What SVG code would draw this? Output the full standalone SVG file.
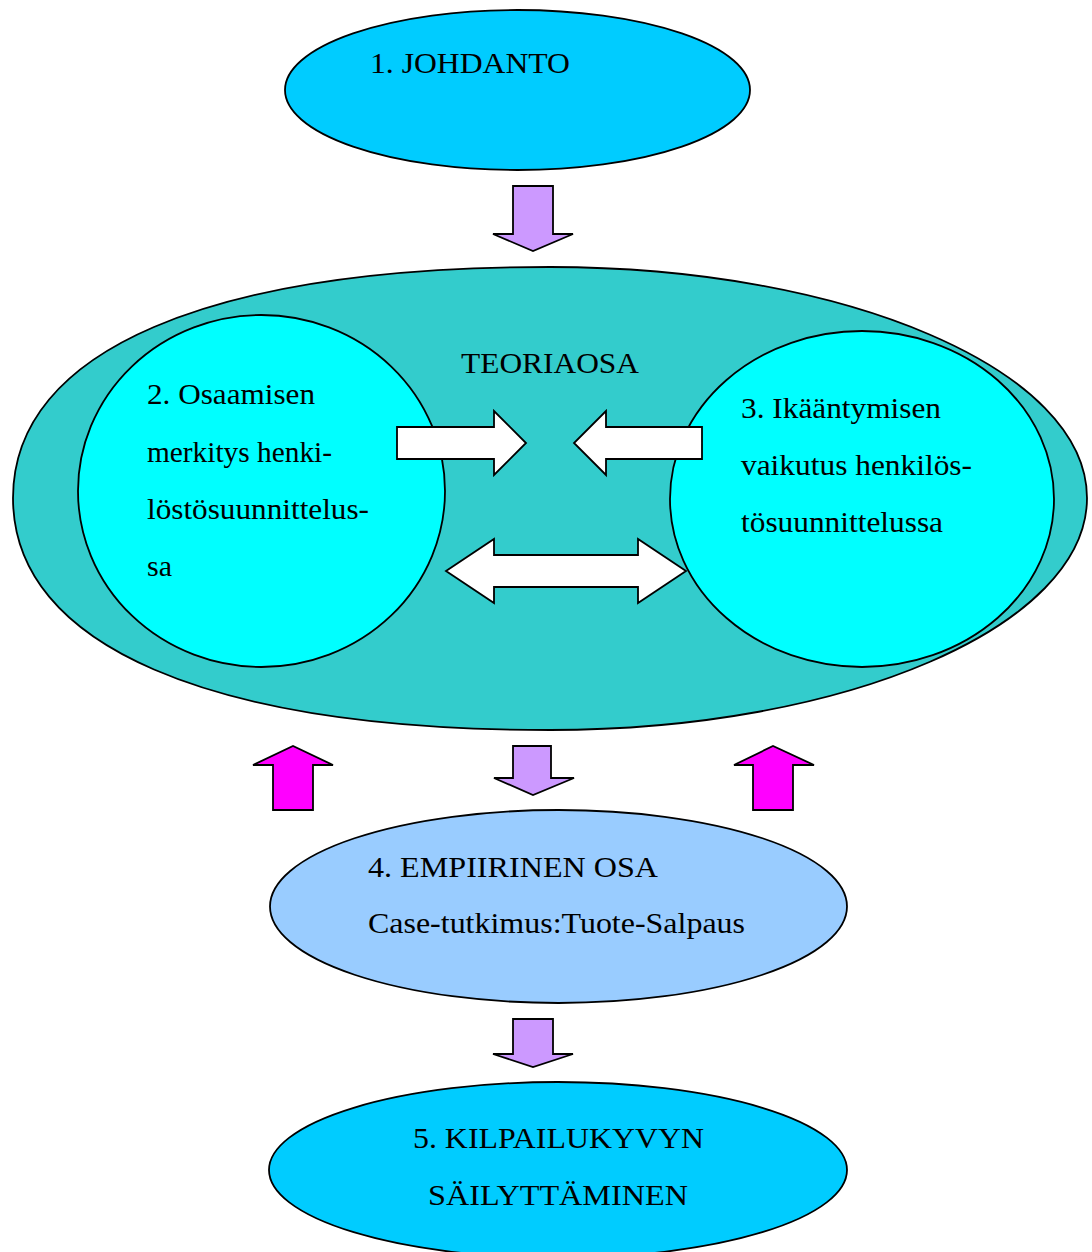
<svg xmlns="http://www.w3.org/2000/svg" width="1092" height="1252" viewBox="0 0 1092 1252">
  <style>
    .shape { stroke: #000; stroke-width: 1.8; }
    .blue { fill: #00CCFF; }
    .teal { fill: #33CCCC; }
    .cyan { fill: #00FFFF; }
    .pale { fill: #99CCFF; }
    .lav { fill: #CC99FF; stroke: #000; stroke-width: 1.8; }
    .mag { fill: #FF00FF; stroke: #000; stroke-width: 1.8; }
    .wht { fill: #FFFFFF; stroke: #000; stroke-width: 1.8; }
    text { font-family: "Liberation Serif", "Times New Roman", serif; font-size: 30px; fill: #000; }
  </style>

  <!-- 1. Introduction -->
  <g id="johdanto">
    <ellipse class="shape blue" cx="517.5" cy="90" rx="232.5" ry="80"/>
    <text x="370" y="73" textLength="200" lengthAdjust="spacingAndGlyphs">1. JOHDANTO</text>
  </g>

  <!-- Theory part: large container with two chapters -->
  <g id="teoriaosa">
    <path class="shape teal" d="M550,267 C210,267 13,350 13,498 C13,646 210,730 550,730 C846,730 1087,626 1087,498 C1087,370 846,267 550,267 Z"/>
    <text x="461" y="373" textLength="178" lengthAdjust="spacingAndGlyphs">TEORIAOSA</text>
  </g>

  <g id="osaaminen">
    <ellipse class="shape cyan" cx="261.5" cy="491" rx="183.5" ry="176"/>
    <text x="147" y="404" textLength="168" lengthAdjust="spacingAndGlyphs">2. Osaamisen</text>
    <text x="147" y="462" textLength="185" lengthAdjust="spacingAndGlyphs">merkitys henki-</text>
    <text x="147" y="519" textLength="222" lengthAdjust="spacingAndGlyphs">löstösuunnittelus-</text>
    <text x="147" y="576" textLength="25" lengthAdjust="spacingAndGlyphs">sa</text>
  </g>

  <g id="ikaantyminen">
    <ellipse class="shape cyan" cx="862" cy="499" rx="192" ry="168"/>
    <text x="741" y="418" textLength="200" lengthAdjust="spacingAndGlyphs">3. Ikääntymisen</text>
    <text x="741" y="475" textLength="231" lengthAdjust="spacingAndGlyphs">vaikutus henkilös-</text>
    <text x="741" y="532" textLength="202" lengthAdjust="spacingAndGlyphs">tösuunnittelussa</text>
  </g>

  <!-- 4. Empirical part -->
  <g id="empiirinen">
    <ellipse class="shape pale" cx="558.5" cy="906.5" rx="288.5" ry="96.5"/>
    <text x="368" y="877" textLength="290" lengthAdjust="spacingAndGlyphs">4. EMPIIRINEN OSA</text>
    <text x="368" y="933" textLength="377" lengthAdjust="spacingAndGlyphs">Case-tutkimus:Tuote-Salpaus</text>
  </g>

  <!-- 5. Conclusion -->
  <g id="kilpailukyky">
    <ellipse class="shape blue" cx="558" cy="1170" rx="289" ry="88"/>
    <text x="413" y="1148" textLength="291" lengthAdjust="spacingAndGlyphs">5. KILPAILUKYVYN</text>
    <text x="428" y="1205" textLength="260" lengthAdjust="spacingAndGlyphs">SÄILYTTÄMINEN</text>
  </g>

  <!-- Block arrows between the parts -->
  <g id="connectors">
    <path class="lav" d="M513,186 H553 V234 H573 L533,251 L493,234 H513 Z"/>
    <path class="wht" d="M397,427 H494 V411 L526,443 L494,475 V459 H397 Z"/>
    <path class="wht" d="M702,427 H606 V411 L574,443 L606,475 V459 H702 Z"/>
    <path class="wht" d="M446,571 L494,539 V555 H638 V539 L686,571 L638,603 V587 H494 V603 Z"/>
    <path class="mag" d="M273,810 V765 H253 L293,746 L333,765 H313 V810 Z"/>
    <path class="lav" d="M513,746 H551 V778 H574 L533,795 L494,778 H513 Z"/>
    <path class="mag" d="M753,810 V765 H734 L773,746 L814,765 H793 V810 Z"/>
    <path class="lav" d="M513,1019 H553 V1054 H573 L533,1067 L493,1054 H513 Z"/>
  </g>
</svg>
